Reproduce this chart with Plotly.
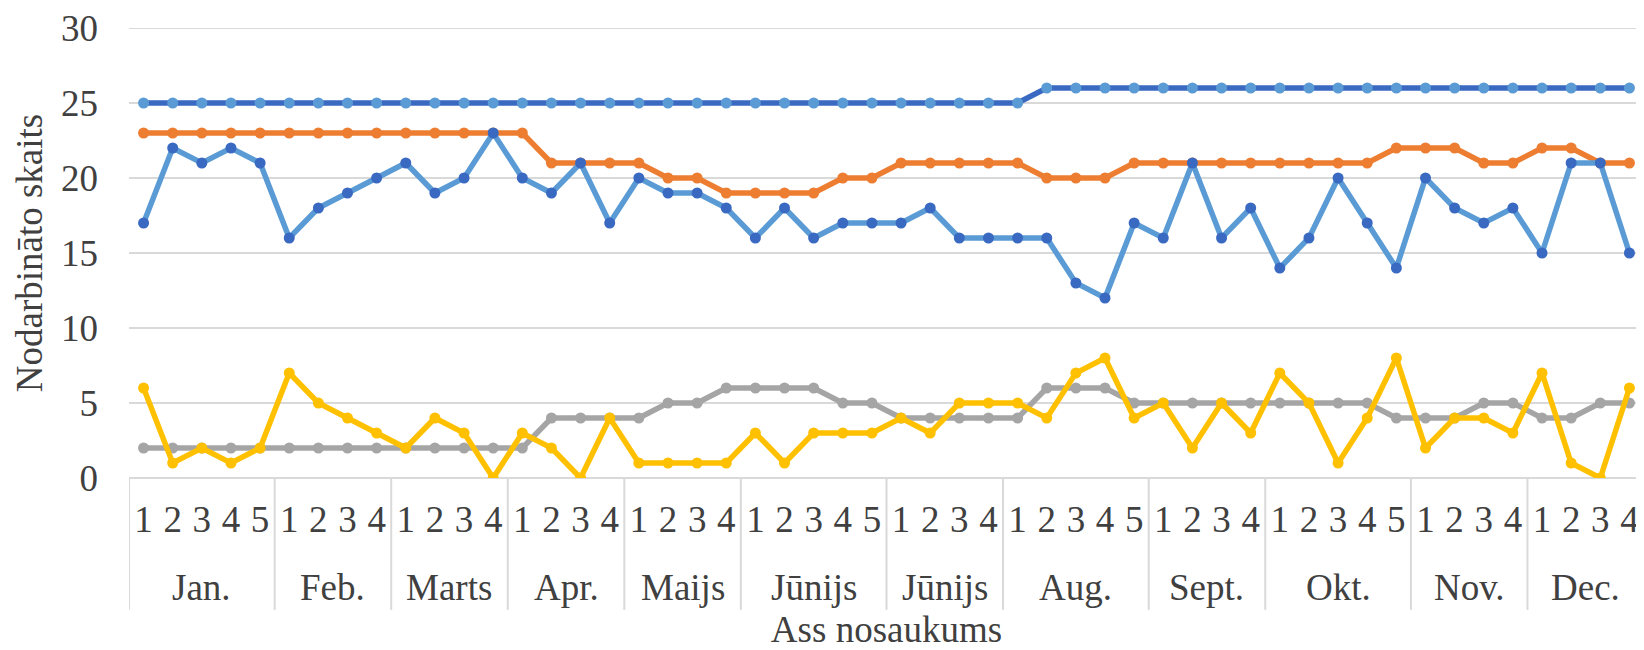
import plotly.graph_objects as go

months = ["Jan.", "Feb.", "Marts", "Apr.", "Maijs", "Jūnijs", "Jūnijs",
          "Aug.", "Sept.", "Okt.", "Nov.", "Dec."]
weeks_per_month = [5, 4, 4, 4, 4, 5, 4, 5, 4, 5, 4, 4]

# week labels; invisible zero-width spaces keep each category unique
week_cats = [str(w) + "\u200b" * mi
             for mi, n in enumerate(weeks_per_month) for w in range(1, n + 1)]

series_top = [25]*31 + [26]*21
series_orange = [23, 23, 23, 23, 23, 23, 23, 23, 23, 23, 23, 23, 23, 23,
                 21, 21, 21, 21, 20, 20, 19, 19, 19, 19, 20, 20, 21, 21, 21, 21,
                 21, 20, 20, 20, 21, 21, 21, 21, 21, 21, 21, 21, 21, 22, 22, 22,
                 21, 21, 22, 22, 21, 21]
series_blue = [17, 22, 21, 22, 21, 16, 18, 19, 20, 21, 19, 20, 23, 20,
               19, 21, 17, 20, 19, 19, 18, 16, 18, 16, 17, 17, 17, 18, 16, 16,
               16, 16, 13, 12, 17, 16, 21, 16, 18, 14, 16, 20, 17, 14, 20, 18,
               17, 18, 15, 21, 21, 15]
series_gray = [2, 2, 2, 2, 2, 2, 2, 2, 2, 2, 2, 2, 2, 2,
               4, 4, 4, 4, 5, 5, 6, 6, 6, 6, 5, 5, 4, 4, 4, 4,
               4, 6, 6, 6, 5, 5, 5, 5, 5, 5, 5, 5, 5, 4, 4, 4,
               5, 5, 4, 4, 5, 5]
series_yellow = [6, 1, 2, 1, 2, 7, 5, 4, 3, 2, 4, 3, 0, 3,
                 2, 0, 4, 1, 1, 1, 1, 3, 1, 3, 3, 3, 4, 3, 5, 5,
                 5, 4, 7, 8, 4, 5, 2, 5, 3, 7, 5, 1, 4, 8, 2, 4,
                 4, 3, 7, 1, 0, 6]
y_ticks = [0, 5, 10, 15, 20, 25, 30]

fig = go.Figure()

def add(y, line_color, marker_color):
    fig.add_trace(go.Scatter(
        x=week_cats, y=y, mode="lines+markers",
        line=dict(color=line_color, width=5.5),
        marker=dict(color=marker_color, size=11),
        showlegend=False,
    ))

add(series_top, "#3A69C2", "#5B9BD5")
add(series_orange, "#ED7D31", "#ED7D31")
add(series_blue, "#5B9BD5", "#3A69C2")
add(series_gray, "#A5A5A5", "#A5A5A5")
add(series_yellow, "#FFC000", "#FFC000")

font_family = "Liberation Serif"
txt = "#404040"
fs = 37
div_color = "#D9D9D9"
div_bottom = -0.293
month_y = -0.243

# month group labels and dividers, positioned on the category scale
start = 0
shapes = []
annotations = []
for m, n in zip(months, weeks_per_month):
    annotations.append(dict(
        x=start + (n - 1) / 2, xref="x", y=month_y, yref="paper",
        text=m, showarrow=False, xanchor="center", yanchor="middle",
        font=dict(family=font_family, size=fs, color=txt),
    ))
    shapes.append(dict(type="line", xref="x", yref="paper",
                       x0=start - 0.5, x1=start - 0.5, y0=0, y1=div_bottom,
                       line=dict(color=div_color, width=2)))
    start += n
shapes.append(dict(type="line", xref="x", yref="paper",
                   x0=start - 0.5, x1=start - 0.5, y0=0, y1=div_bottom,
                   line=dict(color=div_color, width=2)))
# top gridline (plotly omits the gridline lying on the plot edge)
shapes.append(dict(type="line", xref="paper", yref="y", layer="below",
                   x0=0, x1=1, y0=y_ticks[-1], y1=y_ticks[-1],
                   line=dict(color=div_color, width=2)))

fig.update_layout(
    width=1636, height=642,
    margin=dict(l=121, r=0, t=20, b=172),
    paper_bgcolor="white", plot_bgcolor="white",
    font=dict(family=font_family, size=fs, color=txt),
    shapes=shapes, annotations=annotations,
)
fig.update_xaxes(
    type="category",
    range=[-0.5, 51.5],
    tickmode="linear", tick0=0, dtick=1,
    tickangle=0,
    automargin=False,
    showgrid=False,
    showline=False,
    zeroline=False,
    ticks="",
    ticklabelstandoff=16,
    ticklabeloverflow="allow",
    tickfont=dict(family=font_family, size=fs, color=txt),
    title=dict(text="Ass nosaukums", font=dict(family=font_family, size=fs, color=txt), standoff=82),
)
fig.update_yaxes(
    range=[y_ticks[0], y_ticks[-1]],
    tickvals=y_ticks,
    automargin=False,
    showgrid=True, gridcolor=div_color, gridwidth=2,
    zeroline=True, zerolinecolor=div_color, zerolinewidth=2,
    showline=False, ticks="",
    ticklabelstandoff=30,
    ticklabeloverflow="allow",
    tickfont=dict(family=font_family, size=fs, color=txt),
    title=dict(text="Nodarbināto skaits", font=dict(family=font_family, size=fs, color=txt), standoff=7),
)

fig.write_html("out.html")
